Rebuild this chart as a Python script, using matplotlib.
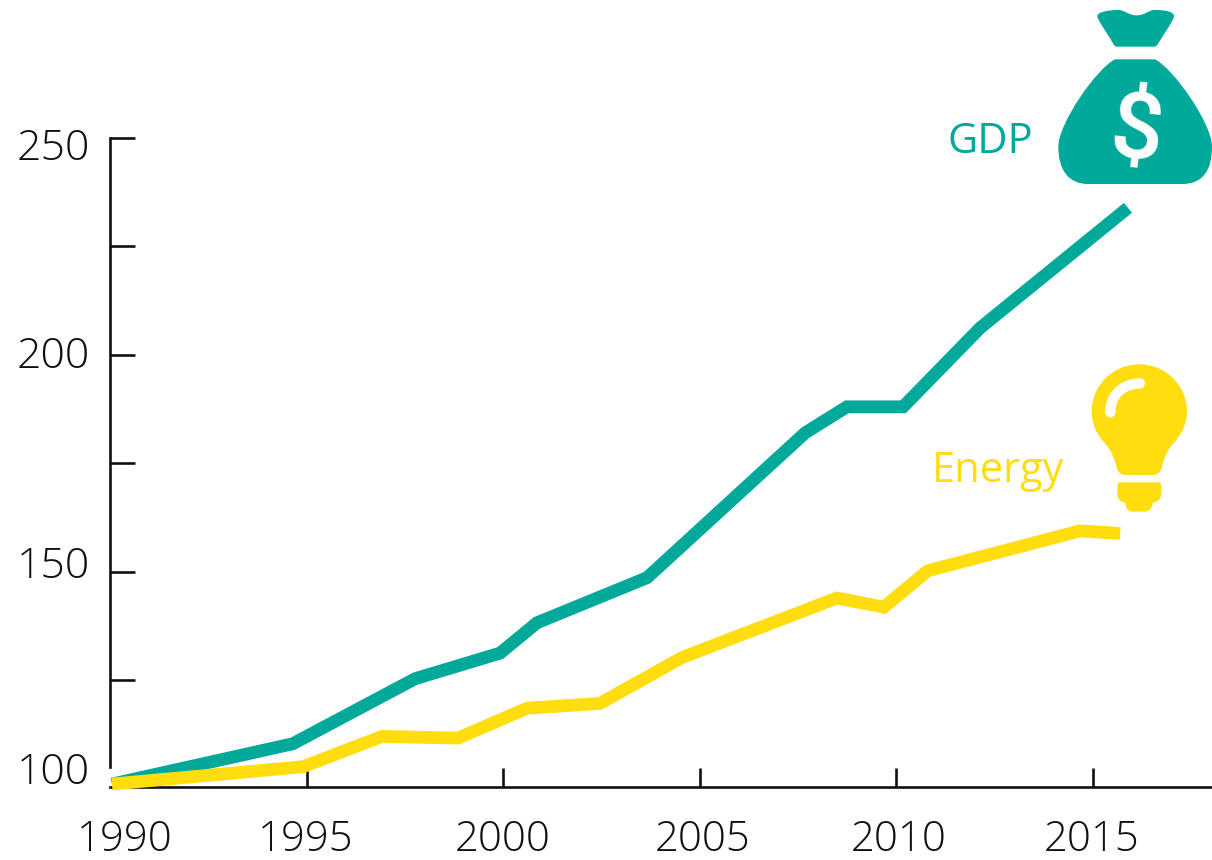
import matplotlib
matplotlib.use("Agg")
import matplotlib.pyplot as plt
from matplotlib.path import Path
from matplotlib.patches import PathPatch

# ---- data ----
gdp_years = [1990.05, 1994.65, 1997.76, 1999.92, 2000.86, 2003.66, 2007.68, 2008.74, 2010.17, 2012.13, 2015.89]
gdp_values = [101.0, 110.3, 125.3, 131.2, 138.2, 148.6, 182.0, 188.0, 188.0, 206.2, 233.9]
energy_years = [1990.05, 1994.91, 1996.92, 1998.85, 2000.61, 2002.46, 2004.55, 2008.49, 2009.68, 2010.80, 2014.67, 2015.69]
energy_values = [101.0, 105.0, 112.0, 111.6, 118.5, 119.6, 130.2, 143.9, 141.8, 150.2, 159.4, 158.8]
x_ticks = [1995, 2000, 2005, 2010, 2015]
x_labels = ["1995", "2000", "2005", "2010", "2015"]
y_ticks = [125, 150, 175, 200, 225, 250]
y_label_values = [100, 150, 200, 250]

GREEN = "#00A99A"
YELLOW = "#FFDD0F"
W, H = 1212, 860
FONT = "Open Sans"

fig = plt.figure(figsize=(W / 100, H / 100), dpi=100)
ax = fig.add_axes([110 / W, 1 - 786.5 / H, (W - 110) / W, (786.5 - 138) / H])
ax.set_xlim(1990, 1990 + (W - 110) / 39.32)
ax.set_ylim(250 - (786.5 - 138) / 4.336, 250)
ax.patch.set_alpha(0)

for s in ("top", "right"):
    ax.spines[s].set_visible(False)
for s in ("left", "bottom"):
    ax.spines[s].set_linewidth(1.9)
    ax.spines[s].set_color("#111111")
ax.spines["left"].set_bounds(104.9, 250)

ax.plot(gdp_years, gdp_values, color=GREEN, lw=9.2, solid_joinstyle="miter", solid_capstyle="butt", clip_on=False, zorder=3)
ax.plot(energy_years, energy_values, color=YELLOW, lw=9.2, solid_joinstyle="miter", solid_capstyle="butt", clip_on=False, zorder=4)

ax.set_xticks(x_ticks)
ax.set_xticklabels(x_labels)
ax.set_yticks(y_ticks)
ax.set_yticklabels([])
ax.tick_params(axis="x", direction="in", length=14, width=1.9, color="#111111", pad=0)
ax.tick_params(axis="y", direction="in", length=18, width=1.9, color="#111111")

LABEL_SIZE = 30.8
for lab in ax.get_xticklabels():
    lab.set_visible(False)
# year labels including the 1990 one, placed as in the picture (slightly off the ticks)
year_label_pos = {"1990": 125, "1995": 306, "2000": 503, "2005": 703, "2010": 899, "2015": 1092}
for t, px in year_label_pos.items():
    fig.text(px / W, 1 - 839.5 / H, t, ha="center", va="center", fontsize=30.2,
             family=FONT, weight="light", color="#111111")
value_label_pos = {250: 149, 200: 357, 150: 567, 100: 773}
for v in y_label_values:
    fig.text(90 / W, 1 - value_label_pos[v] / H, str(v), ha="right", va="center", fontsize=LABEL_SIZE,
             family=FONT, weight="light", color="#111111")

fig.text(990 / W, 1 - 142 / H, "GDP", ha="center", va="center", fontsize=30, family=FONT, color=GREEN)
fig.text(998 / W, 1 - 471 / H, "Energy", ha="center", va="center", fontsize=30, family=FONT, color=YELLOW)

# ---- icons, in figure pixels ----
ov = fig.add_axes([0, 0, 1, 1])
ov.set_xlim(0, W)
ov.set_ylim(H, 0)
ov.axis("off")
ov.patch.set_alpha(0)

M, L, C, Z = Path.MOVETO, Path.LINETO, Path.CURVE4, Path.CLOSEPOLY


def shape(ops, ox, oy, color, **kw):
    verts, codes = [], []
    for op in ops:
        kind, pts = op[0], op[1:]
        for p in pts:
            verts.append((ox + p[0] / 3, oy + p[1] / 3))
            codes.append(kind)
    verts.append(verts[0])
    codes.append(Z)
    ov.add_patch(PathPatch(Path(verts, codes), facecolor=color, edgecolor="none", **kw))


# money bag neck
shape([(M, (172, 48)),
       (C, (172, 36), (205, 30), (235, 30)),
       (C, (255, 30), (265, 46), (290, 46)),
       (C, (315, 46), (325, 30), (345, 30)),
       (C, (380, 30), (402, 36), (402, 48)),
       (C, (402, 60), (370, 105), (355, 130)),
       (C, (351, 137), (348, 140), (342, 140)),
       (L, (232, 140)),
       (C, (226, 140), (222, 137), (219, 130)),
       (C, (205, 105), (172, 60), (172, 48))], 1040, 0, GREEN)
# money bag body
shape([(M, (225, 178)),
       (L, (345, 178)),
       (C, (400, 205), (516, 370), (516, 440)),
       (C, (516, 510), (490, 552), (425, 552)),
       (L, (145, 552)),
       (C, (85, 552), (55, 510), (55, 440)),
       (C, (55, 370), (170, 205), (225, 178))], 1040, 0, GREEN)
ov.text(1136, 120, "$", ha="center", va="center_baseline", fontsize=67, family="Roboto", weight="medium", color="white", rotation=-6)

# bulb glass
shape([(M, (65, 170)),
       (C, (65, 90), (130, 28), (208, 28)),
       (C, (286, 28), (351, 90), (351, 170)),
       (C, (351, 210), (330, 245), (310, 265)),
       (C, (295, 282), (282, 305), (275, 338)),
       (C, (272, 352), (262, 360), (248, 360)),
       (L, (168, 360)),
       (C, (152, 360), (143, 352), (140, 338)),
       (C, (133, 305), (120, 282), (105, 265)),
       (C, (85, 245), (65, 210), (65, 170))], 1070, 355, YELLOW)
# bulb base
shape([(M, (152, 382)),
       (L, (264, 382)),
       (C, (270, 382), (274, 386), (274, 392)),
       (L, (274, 418)),
       (C, (274, 432), (262, 442), (248, 443)),
       (C, (248, 460), (236, 470), (225, 470)),
       (L, (188, 470)),
       (C, (176, 470), (166, 460), (166, 443)),
       (C, (152, 442), (142, 432), (142, 418)),
       (L, (142, 392)),
       (C, (142, 386), (146, 382), (152, 382))], 1070, 355, YELLOW)
# bulb highlight
hx = [1070 + p / 3 for p in (121, 121, 150, 210)]
hy = [355 + p / 3 for p in (172, 125, 88, 85)]
ov.add_patch(PathPatch(Path(list(zip(hx, hy)), [M, C, C, C]), facecolor="none", edgecolor="white",
                       lw=7.4, capstyle="round"))

fig.savefig("out.png", dpi=100)
